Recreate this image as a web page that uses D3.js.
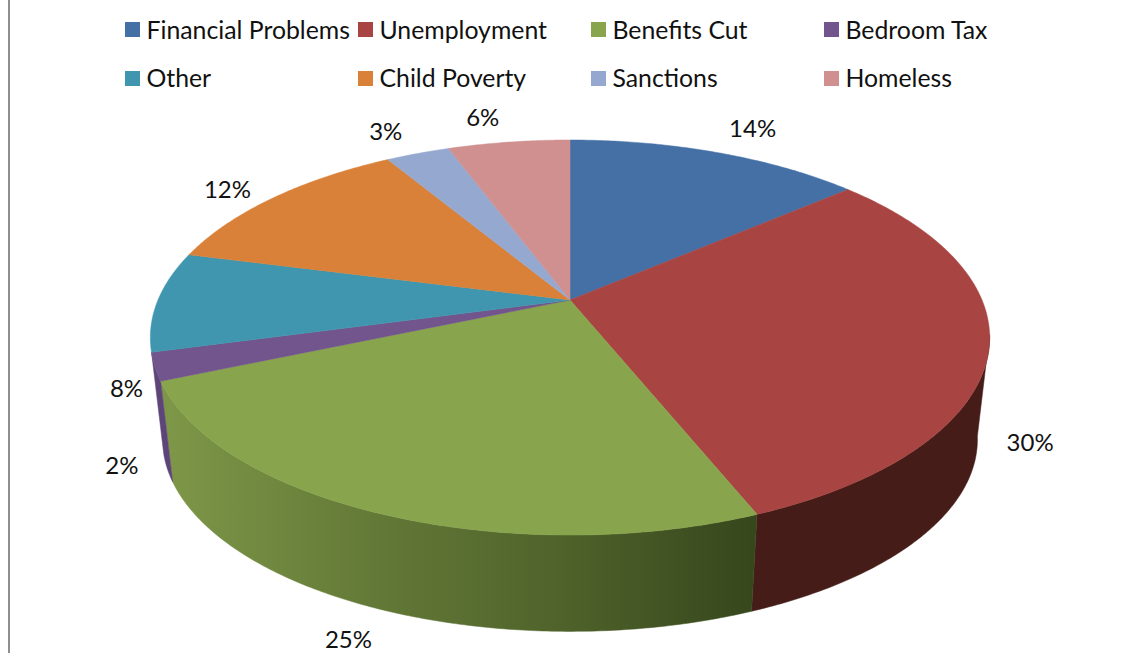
<!DOCTYPE html>
<html lang="en">
<head>
<meta charset="UTF-8">
<title>Pie chart</title>
<script src="https://d3js.org/d3.v7.min.js"></script>
<style>
  html, body { margin: 0; background: #fff; overflow: hidden; }
  text { font-family: Lato, "Open Sans", sans-serif; fill: #111; }
</style>
</head>
<body>
<svg id="chart" width="1144" height="653"></svg>
<script>
// data, clockwise from 12 o'clock., labels round them
const categories = ["Financial Problems", "Unemployment", "Benefits Cut", "Bedroom Tax", "Other", "Child Poverty", "Sanctions", "Homeless"];
const shares = [13.7, 30.2, 24.65, 2.25, 8.2, 12.4, 2.95, 5.65];
const topColours = ["#4570a6", "#a84442", "#88a44c", "#71558c", "#3f96ae", "#d98139", "#94a8d0", "#cf908f"];
const wallColours = ["#2a4263", "#451c18", "url(#greenWall)", "#5d4479", "#255a68", "#824d22", "#58657c", "#7c5655"];

// label offsets from the rim point at the middle of each slice
const labelDx = [36, 41, -31, -33, -31, -46, -32, -26];
const labelDy = [-24, 95, 126, 99, 87, -8, -22, -25];

const svg = d3.select("#chart");
const cx = 570, persp = 0.19;

// circle -> ellipse with perspective, the hub sits above the ellipse middle
function rim(angle, a, b, y0) {
  const u = Math.sin(angle), v = -Math.cos(angle), w = 1 - persp * v;
  return [cx + a * u / w, y0 + b * v / w];
}
const topRim = angle => rim(angle, 412, 190.4, 300);
const lowRim = angle => rim(angle, 400, 185, 403);
const hub = [cx, 300];

const arcs = d3.pie().sort(null).value(d => d)(shares);
const colour = d3.scaleOrdinal().domain(categories).range(topColours);
const line = d3.line();
const pct = d3.format(".0f");

function sample(a0, a1) {
  const n = Math.max(2, Math.ceil(Math.abs(a1 - a0) / 0.01));
  return d3.range(n + 1).map(i => a0 + (a1 - a0) * i / n);
}

const defs = svg.append("defs");
const grad = defs.append("linearGradient").attr("id", "greenWall")
  .attr("gradientUnits", "userSpaceOnUse")
  .attr("x1", 170).attr("x2", 755).attr("y1", 0).attr("y2", 0);
[[0, "#7d9647"], [0.35, "#637937"], [0.65, "#50642b"], [1, "#36471c"]].forEach(s => {
  grad.append("stop").attr("offset", s[0]).attr("stop-color", s[1]);
});

// left border of the frame
svg.append("line").attr("x1", 9).attr("x2", 9).attr("y1", 0).attr("y2", 653)
  .attr("stroke", "#8f8f8f").attr("stroke-width", 2);

// walls, only the front part can be seen
const wallFrom = 100 * Math.PI / 180, wallTo = d3.sum(shares.slice(0, 4)) / d3.sum(shares) * 2 * Math.PI;
svg.append("g").selectAll("path")
  .data(arcs.filter(d => d.endAngle > wallFrom && d.startAngle < wallTo))
  .join("path")
  .attr("fill", d => wallColours[d.index])
  .attr("stroke", d => wallColours[d.index])
  .attr("stroke-width", 0.5)
  .attr("d", d => {
    const as = sample(Math.max(d.startAngle, wallFrom), Math.min(d.endAngle, wallTo));
    return line(as.map(topRim).concat(as.slice().reverse().map(lowRim))) + "Z";
  });

// top face
svg.append("g").selectAll("path")
  .data(arcs)
  .join("path")
  .attr("fill", (d, i) => colour(categories[i]))
  .attr("stroke", (d, i) => colour(categories[i]))
  .attr("stroke-width", 0.5)
  .attr("d", d => line([hub].concat(sample(d.startAngle, d.endAngle).map(topRim))) + "Z");

// percent labels
svg.append("g").selectAll("text")
  .data(arcs)
  .join("text")
  .attr("text-anchor", "middle")
  .attr("dy", "0.35em")
  .attr("font-size", 24)
  .attr("transform", (d, i) => {
    const p = topRim((d.startAngle + d.endAngle) / 2);
    return `translate(${p[0] + labelDx[i]},${p[1] + labelDy[i]})`;
  })
  .text(d => pct(d.value) + "%");

// legend, two rows of four
const legendCols = [125, 358, 591, 824];
const legendY = d3.scalePoint().domain([0, 1]).range([22, 71]);
const legend = svg.append("g").selectAll("g")
  .data(categories)
  .join("g")
  .attr("transform", (d, i) => `translate(${legendCols[i % 4]},${legendY(Math.floor(i / 4))})`);
legend.append("rect").attr("width", 15).attr("height", 15).attr("fill", d => colour(d));
legend.append("text").attr("x", 21.5).attr("y", (d, i) => i < 4 ? 16.5 : 15.5).attr("font-size", 24.8).text(d => d);
</script>
</body>
</html>
